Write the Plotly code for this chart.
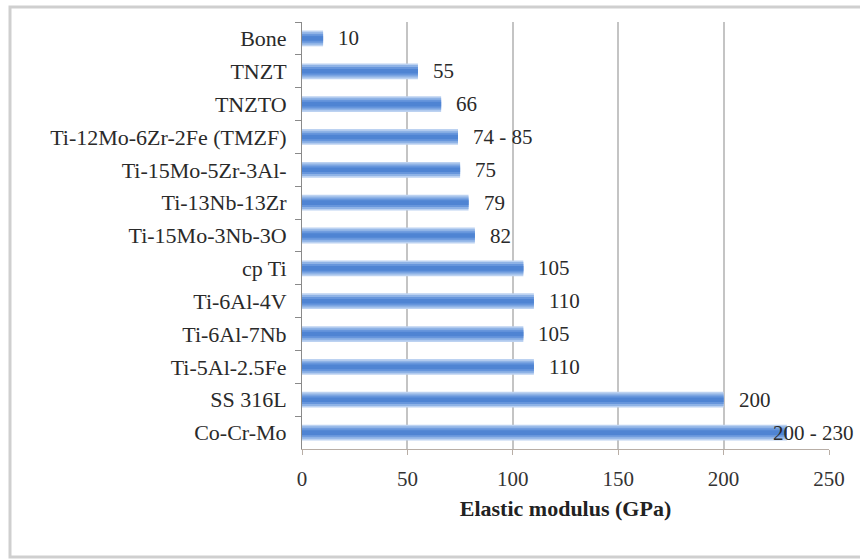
import plotly.graph_objects as go

categories = ["Bone", "TNZT", "TNZTO", "Ti-12Mo-6Zr-2Fe (TMZF)", "Ti-15Mo-5Zr-3Al-",
              "Ti-13Nb-13Zr", "Ti-15Mo-3Nb-3O", "cp Ti", "Ti-6Al-4V", "Ti-6Al-7Nb",
              "Ti-5Al-2.5Fe", "SS 316L", "Co-Cr-Mo"]
values = [10, 55, 66, 74, 75, 79, 82, 105, 110, 105, 110, 200, 230]
labels = ["10", "55", "66", "74 - 85", "75", "79", "82", "105", "110", "105", "110", "200", "200 - 230"]
label_shift = [13, 13, 13, 13, 13, 13, 13, 13, 13, 13, 13, 13, -16]

FONT = "Liberation Serif, Times New Roman, serif"

fig = go.Figure()
# layered bars to imitate the gradient fill
for w, c in [(0.48, "#bcd2f1"), (0.38, "#8fb3e6"), (0.26, "#6796dc"), (0.14, "#4f84d3")]:
    fig.add_trace(go.Bar(x=values, y=categories, orientation="h", width=w,
                         marker=dict(color=c, line=dict(width=0)), hoverinfo="skip",
                         showlegend=False))

for v, cat, lab, sh in zip(values, categories, labels, label_shift):
    fig.add_annotation(x=v, y=cat, text=lab, showarrow=False, xanchor="left",
                       xshift=sh, font=dict(family=FONT, size=21, color="#2a2a2a"))

fig.add_shape(type="rect", xref="paper", yref="paper",
              x0=(10 - 302) / 527, x1=(870 - 302) / 527,
              y0=(449 - 557) / 427, y1=(449 - 7) / 427,
              line=dict(color="#cfcfcf", width=3), layer="below")

fig.update_layout(
    width=860, height=559,
    margin=dict(l=302, r=31, t=22, b=110),
    paper_bgcolor="white", plot_bgcolor="white",
    barmode="overlay",
    font=dict(family=FONT, size=21, color="#2a2a2a"),
    xaxis=dict(range=[0, 250], dtick=50, showgrid=True, gridcolor="#c4c4c4", gridwidth=2,
               zeroline=False, showline=True, linecolor="#b8aea6", linewidth=1,
               ticks="outside", ticklen=5, tickcolor="#b8aea6", ticklabelstandoff=6,
               tickfont=dict(family=FONT, size=21, color="#333"),
               title=dict(text="<b>Elastic modulus (GPa)</b>", standoff=10,
                          font=dict(family=FONT, size=22, color="#222"))),
    yaxis=dict(autorange="reversed", showline=True, linecolor="#8a8a8a", linewidth=1,
               ticks="outside", ticklen=6, tickcolor="#8a8a8a", tickson="boundaries",
               showgrid=False, ticklabelstandoff=10,
               tickfont=dict(family=FONT, size=22, color="#2a2a2a")),
)

fig.write_html("out.html")
